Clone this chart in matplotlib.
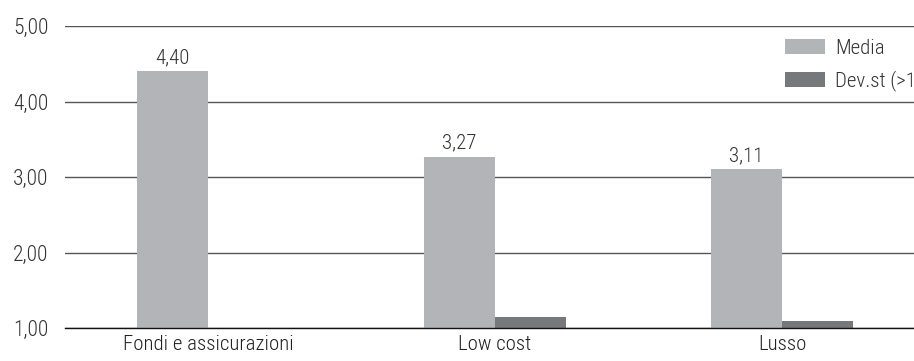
import matplotlib
matplotlib.use("Agg")
import matplotlib.pyplot as plt
import numpy as np

categories = ["Fondi e assicurazioni", "Low cost", "Lusso"]
media = [4.40, 3.27, 3.11]
devst = [np.nan, 1.15, 1.09]
yticks = [1, 2, 3, 4, 5]
series_names = ["Media", "Dev.st (>1)"]

plt.rcParams['font.family'] = ['Roboto Condensed', 'Liberation Sans', 'DejaVu Sans']
plt.rcParams['font.weight'] = 300

FS = 15
fig = plt.figure(figsize=(9.14, 3.61), dpi=100)
ax = fig.add_axes([65/914, 33/361, 1 - 65/914, (328-26)/361])

x = np.arange(len(categories))
w = 0.247
c_media = "#b3b4b7"
c_dev = "#77787b"
ax.bar(x - w/2, media, width=w, color=c_media, zorder=3, label=series_names[0])
ax.bar(x + w/2, devst, width=w, color=c_dev, zorder=3, label=series_names[1])

for xi, v in zip(x, media):
    ax.text(xi - w/2, v + 0.05, f"{v:.2f}".replace(".", ","), ha="center", va="bottom",
            fontsize=FS, color="#333333")

ax.set_ylim(1, 5)
ax.set_xlim(-0.498, 2.46)
ax.set_yticks(yticks)
ax.set_yticklabels([f"{t:.2f}".replace(".", ",") for t in yticks], fontsize=FS + 0.5, color="#333333")
ax.set_xticks(x)
ax.set_xticklabels(categories, fontsize=FS, color="#222222")
ax.tick_params(axis="both", length=0)
ax.tick_params(axis="y", pad=12)
ax.tick_params(axis="x", pad=5)
ax.yaxis.grid(True, color="#555555", linewidth=1.0, zorder=0)
ax.set_axisbelow(True)
for s in ["top", "right", "left"]:
    ax.spines[s].set_visible(False)
ax.spines["bottom"].set_color("#111111")
ax.spines["bottom"].set_linewidth(1.0)
ax.spines["bottom"].set_zorder(4)

leg = ax.legend(loc="upper left", bbox_to_anchor=((785 - 65) / 849, 1 - 13/302),
                bbox_transform=ax.transAxes, frameon=False, fontsize=FS,
                handlelength=1.9, handleheight=0.7, handletextpad=0.5,
                labelspacing=0.6, borderaxespad=0, borderpad=0, labelcolor="#333333")

fig.savefig("out.png", dpi=100)
